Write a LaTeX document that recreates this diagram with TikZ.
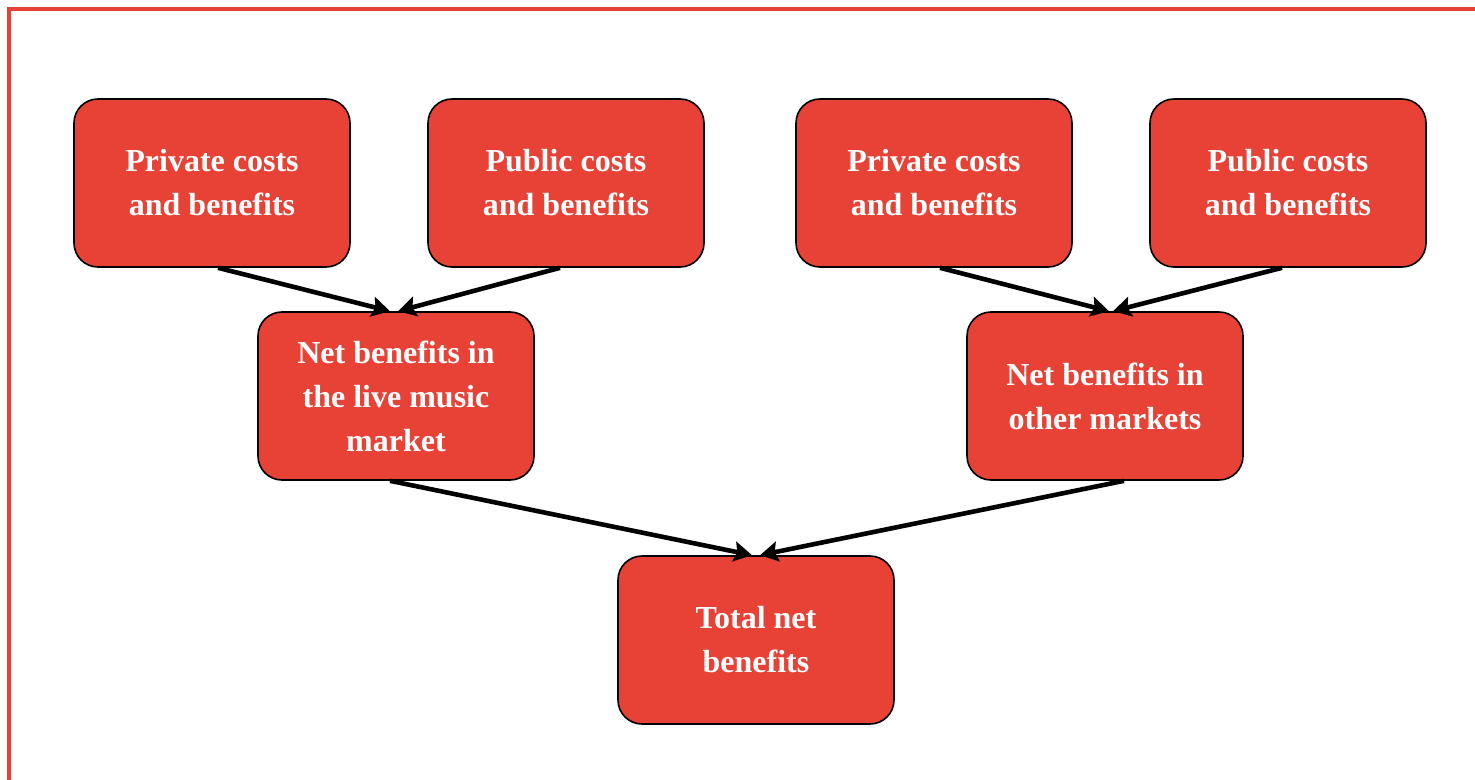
\documentclass[tikz,border=0pt]{standalone}
\usepackage{fontspec}
\setmainfont{Liberation Serif}
\usetikzlibrary{arrows.meta}
\definecolor{boxred}{RGB}{232,65,53}

\begin{document}
\begin{tikzpicture}[x=0.5pt,y=-0.5pt,
    box/.style={draw=black, line width=0.8pt, fill=boxred, rounded corners=12pt,
        minimum width=138pt, minimum height=84pt, inner sep=0pt,
        align=center, text=white, font=\fontsize{16}{22}\selectfont\bfseries},
    link/.style={line width=2.3pt, -{Stealth[length=9pt,width=10pt,inset=1.5pt]}}]
    \useasboundingbox (0,0) rectangle (1475,780);
    % frame
    \draw[boxred, line width=2pt] (9,820) -- (9,9) -- (1520,9);

    % top row
    \node[box] (privL) at (212,183) {Private costs\\and benefits};
    \node[box] (publL) at (566,183) {Public costs\\and benefits};
    \node[box] (privR) at (934,183) {Private costs\\and benefits};
    \node[box] (publR) at (1288,183) {Public costs\\and benefits};

    % middle row
    \node[box] (live) at (396,396) {Net benefits in\\the live music\\market};
    \node[box] (other) at (1105,396) {Net benefits in\\other markets};

    % bottom
    \node[box] (total) at (756,640) {Total net\\benefits};

    % arrows
    \draw[link] ([xshift=3pt]privL.south) -- ([xshift=-3pt]live.north);
    \draw[link] ([xshift=-3pt]publL.south) -- ([xshift=1pt]live.north);
    \draw[link] ([xshift=3pt]privR.south) -- ([xshift=2pt]other.north);
    \draw[link] ([xshift=-3pt]publR.south) -- ([xshift=4pt]other.north);
    \draw[link] ([xshift=-3pt]live.south) -- ([xshift=-2pt]total.north);
    \draw[link] ([xshift=9.5pt]other.south) -- ([xshift=2pt]total.north);
\end{tikzpicture}
\end{document}
